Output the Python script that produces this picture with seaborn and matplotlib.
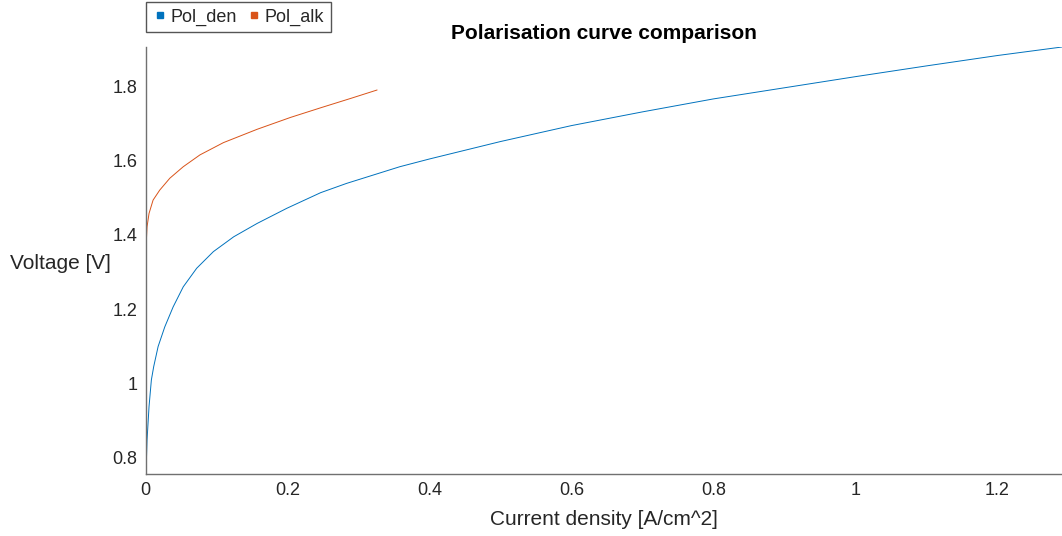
import matplotlib
matplotlib.use("Agg")
import matplotlib.pyplot as plt
import seaborn as sns
import pandas as pd
from matplotlib.lines import Line2D

# ---- data ----
den_current = [0, 0.00005, 0.0005, 0.0019, 0.0047, 0.0080, 0.0113, 0.0175, 0.0269, 0.0387,
               0.0529, 0.0718, 0.0954, 0.124, 0.157, 0.199, 0.2465, 0.283, 0.358, 0.4,
               0.5, 0.6, 0.7, 0.8, 0.9, 1.0, 1.1, 1.2, 1.291]
den_voltage = [1.2, 0.755, 0.761, 0.847, 0.937, 1.009, 1.045, 1.099, 1.152, 1.206,
               1.260, 1.310, 1.355, 1.395, 1.431, 1.472, 1.514, 1.539, 1.584, 1.605,
               1.652, 1.695, 1.732, 1.767, 1.797, 1.827, 1.856, 1.884, 1.907]

alk_current = [0, 0.00005, 0.0005, 0.0019, 0.0047, 0.0104, 0.0198, 0.034, 0.0529, 0.0765,
               0.1095, 0.157, 0.204, 0.2465, 0.29, 0.326]
alk_voltage = [1.2, 1.25, 1.368, 1.422, 1.458, 1.494, 1.521, 1.553, 1.584, 1.616,
               1.649, 1.685, 1.717, 1.743, 1.769, 1.791]

series_names = ["Pol_den", "Pol_alk"]
series_colors = ["#0072BD", "#D95319"]

x_ticks = [0, 0.2, 0.4, 0.6, 0.8, 1.0, 1.2]
x_tick_labels = ["0", "0.2", "0.4", "0.6", "0.8", "1", "1.2"]
y_ticks = [0.8, 1.0, 1.2, 1.4, 1.6, 1.8]
y_tick_labels = ["0.8", "1", "1.2", "1.4", "1.6", "1.8"]

df = pd.concat([
    pd.DataFrame({"current": den_current, "voltage": den_voltage, "series": series_names[0]}),
    pd.DataFrame({"current": alk_current, "voltage": alk_voltage, "series": series_names[1]}),
], ignore_index=True)

sns.set_theme(style="white")
plt.rcParams["font.family"] = ["Liberation Sans", "DejaVu Sans"]

fig = plt.figure(figsize=(10.62, 5.36), dpi=100)
ax = fig.add_axes([145.7 / 1062, 62 / 536, (1062 - 145.7) / 1062, 427 / 536])

sns.lineplot(data=df, x="current", y="voltage", hue="series", hue_order=series_names,
             palette=series_colors, sort=False, estimator=None, linewidth=0.7,
             ax=ax, legend=False)

ax.set_xlim(0, 1.291)
ax.set_ylim(0.755, 1.907)
ax.set_xticks(x_ticks)
ax.set_xticklabels(x_tick_labels)
ax.set_yticks(y_ticks)
ax.set_yticklabels(y_tick_labels)

axis_gray = "#707070"
for side in ["top", "right"]:
    ax.spines[side].set_visible(False)
for side in ["left", "bottom"]:
    ax.spines[side].set_color(axis_gray)
    ax.spines[side].set_linewidth(1.0)
ax.tick_params(direction="in", length=5, width=0.8, color=axis_gray,
               labelsize=13, labelcolor="#262626", pad=6)

ax.set_xlabel("Current density [A/cm^2]", fontsize=15, color="#262626", labelpad=8)
ax.set_ylabel("Voltage [V]", fontsize=15, color="#262626", rotation=0, ha="right", va="center")
ax.yaxis.set_label_coords(-0.038, 0.494)
ax.set_title("Polarisation curve comparison", fontsize=15, fontweight="bold",
             color="black", pad=6)

handles = [Line2D([], [], linestyle="none", marker="s", markersize=4,
                  markerfacecolor=c, markeredgecolor=c) for c in series_colors]
leg = fig.legend(handles, series_names, loc="upper left",
                 bbox_to_anchor=(146 / 1062, 1 - 2 / 536), ncol=2, fontsize=13,
                 frameon=True, fancybox=False, framealpha=1, handlelength=0.8,
                 handletextpad=0.2, columnspacing=0.55, borderpad=0.35,
                 borderaxespad=0)
leg.get_frame().set_edgecolor("#555555")
leg.get_frame().set_linewidth(1.0)
for t in leg.get_texts():
    t.set_color("#262626")

fig.savefig("out.png", dpi=100)
